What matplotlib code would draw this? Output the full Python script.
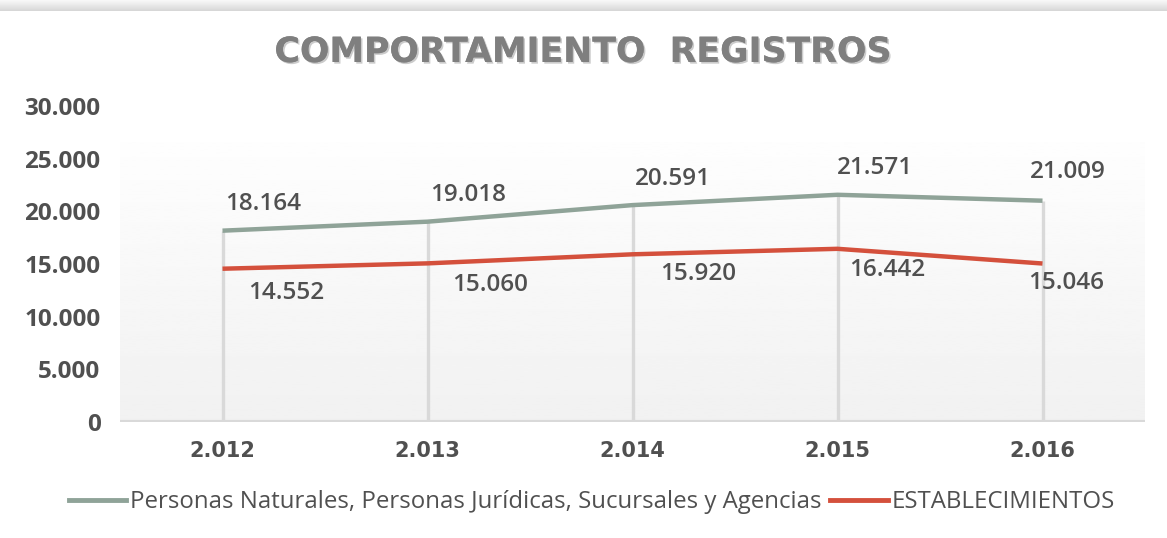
import numpy as np
import matplotlib
matplotlib.use("Agg")
import matplotlib.pyplot as plt
import matplotlib.patheffects as pe
from matplotlib.ticker import FuncFormatter, MultipleLocator
from matplotlib.lines import Line2D

years = ["2.012", "2.013", "2.014", "2.015", "2.016"]
personas = [18164, 19018, 20591, 21571, 21009]
establecimientos = [14552, 15060, 15920, 16442, 15046]
series_names = ["Personas Naturales, Personas Jurídicas, Sucursales y Agencias",
                "ESTABLECIMIENTOS"]
title = "COMPORTAMIENTO  REGISTROS"

GREEN = "#8fa398"
RED = "#d4503c"
TXT = "#505050"

def fmt(v):
    return f"{v:,.0f}".replace(",", ".")

W, H = 1167, 538
fig = plt.figure(figsize=(W / 100, H / 100), dpi=100)
fig.patch.set_facecolor("white")

# top shadow band
band = fig.add_axes([0, 1 - 11 / H, 1, 11 / H])
g = np.linspace(0.975, 0.84, 50).reshape(-1, 1)
band.imshow(g, aspect="auto", cmap="gray", vmin=0, vmax=1, extent=[0, 1, 0, 1], origin="upper")
band.axis("off")

ax = fig.add_axes([120 / W, (H - 422) / H, (1145 - 120) / W, (422 - 106) / H])
ax.set_facecolor("none")
for s in ax.spines.values():
    s.set_visible(False)

x = np.arange(len(years))
ax.set_xlim(-0.5, len(years) - 0.5)
ax.set_ylim(0, 30000)

# plot-area gradient background (in axes coords): white at top, light gray at bottom
top_frac = (422 - 142) / (422 - 106)
grad = np.linspace(0.995, 0.945, 100).reshape(-1, 1)
ax.imshow(grad, aspect="auto", cmap="gray", vmin=0, vmax=1, origin="upper",
          extent=[0, 1, 0, top_frac], transform=ax.transAxes, zorder=0)

# drop lines
ax.vlines(x, 0, personas, color="#d9d9d9", lw=2.4, zorder=1)
ax.axhline(0, color="#d9d9d9", lw=3, zorder=1)

ax.plot(x, personas, color=GREEN, lw=3.2, solid_capstyle="butt", zorder=3)
ax.plot(x, establecimientos, color=RED, lw=3.2, solid_capstyle="butt", zorder=3)

lab_font = dict(fontsize=17.5, color=TXT, family="Open Sans", fontweight="semibold")
green_off = [(29, 19.5), (29, 19.5), (29, 18.5), (27, 19.5), (18, 21)]
red_off = [(46, -17.5), (45, -15.5), (47, -14), (36, -15), (17, -14)]
for i in range(len(years)):
    ax.annotate(fmt(personas[i]), (x[i], personas[i]), xytext=green_off[i],
                textcoords="offset points", ha="center", va="center", **lab_font)
    ax.annotate(fmt(establecimientos[i]), (x[i], establecimientos[i]), xytext=red_off[i],
                textcoords="offset points", ha="center", va="center", **lab_font)

ax.yaxis.set_major_locator(MultipleLocator(5000))
ax.yaxis.set_major_formatter(FuncFormatter(lambda v, p: fmt(v)))
ax.set_xticks(x)
ax.set_xticklabels(years)
ax.tick_params(axis="y", length=0, pad=14, labelsize=17.5, labelcolor=TXT)
ax.tick_params(axis="x", length=0, pad=14, labelsize=15, labelcolor=TXT)
for t in ax.get_yticklabels():
    t.set_fontfamily("Open Sans")
    t.set_fontweight("bold")
for t in ax.get_xticklabels():
    t.set_fontfamily("DejaVu Sans")
    t.set_fontweight("bold")

fig.text(0.5, 1 - 52 / H, title, ha="center", va="center", fontsize=25,
         fontweight="bold", color="#7f7f7f", family="DejaVu Sans",
         path_effects=[pe.withSimplePatchShadow(offset=(1.2, -1.2), shadow_rgbFace="#bfbfbf", alpha=0.8), pe.Normal()])

handles = [Line2D([], [], color=GREEN, lw=3.5), Line2D([], [], color=RED, lw=3.5)]
leg = fig.legend(handles, series_names, loc="center", bbox_to_anchor=(0.507, 1 - 502 / H),
                 ncol=2, frameon=False, handlelength=2.4, handletextpad=0.15,
                 columnspacing=0.35, prop=dict(family="Open Sans", size=17.3))
for t in leg.get_texts():
    t.set_color(TXT)

fig.savefig("out.png", dpi=100)
